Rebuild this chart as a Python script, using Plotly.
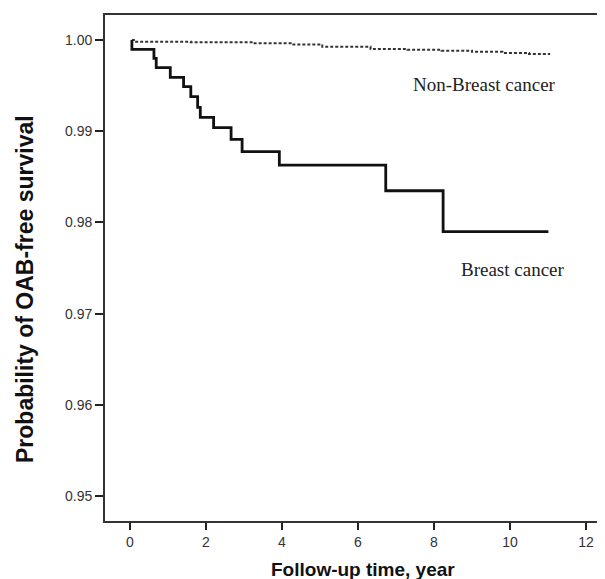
import plotly.graph_objects as go

# Kaplan-Meier step data
breast_time = [0.05, 0.05, 0.63, 0.69, 1.06, 1.41, 1.60, 1.78, 1.85, 2.20, 2.66, 2.95, 3.93, 6.73, 8.24, 11.01]
breast_surv = [1.0000, 0.99898, 0.99799, 0.99697, 0.99591, 0.99488, 0.99379, 0.99262, 0.99152, 0.99039, 0.98911, 0.98775, 0.98629, 0.98347, 0.97898, 0.97898]

nonbreast_time = [0.05, 0.10, 1.6, 3.25, 4.3, 5.06, 6.33, 7.3, 8.2, 9.0, 9.8, 10.5, 11.03]
nonbreast_surv = [1.0000, 0.99981, 0.99975, 0.99964, 0.99950, 0.99927, 0.99901, 0.99893, 0.99883, 0.99870, 0.99858, 0.99846, 0.99836]

x_ticks = [0, 2, 4, 6, 8, 10, 12]
y_ticks = [0.95, 0.96, 0.97, 0.98, 0.99, 1.00]
y_tick_labels = ["0.95", "0.96", "0.97", "0.98", "0.99", "1.00"]

labels = ["Non-Breast cancer", "Breast cancer"]
label_x = [9.34, 10.07]
label_y = [0.99507, 0.97486]

fig = go.Figure()
fig.add_trace(go.Scatter(
    x=nonbreast_time, y=nonbreast_surv, mode="lines", line_shape="hv",
    line=dict(color="#333333", width=2, dash="3px,2px"), showlegend=False))
fig.add_trace(go.Scatter(
    x=breast_time, y=breast_surv, mode="lines", line_shape="hv",
    line=dict(color="#111111", width=2.8), showlegend=False))

for t, xx, yy in zip(labels, label_x, label_y):
    fig.add_annotation(x=xx, y=yy, text=t, showarrow=False,
                       font=dict(family="Liberation Serif", size=19, color="#222222"))

fig.add_annotation(xref="paper", yref="paper", x=0, y=0.4585, xshift=-80,
                   text="Probability of OAB-free survival", textangle=-90, showarrow=False,
                   font=dict(family="Liberation Sans", size=23, color="#111111", weight="bold"),
                   xanchor="center", yanchor="middle")
fig.add_annotation(xref="paper", yref="paper", x=0.516, y=-0.0968,
                   text="Follow-up time, year", showarrow=False,
                   font=dict(family="Liberation Sans", size=19, color="#111111", weight="bold"),
                   xanchor="center", yanchor="middle")

# the page body adds an 8px offset, so the figure is 8px smaller on each side
fig.update_layout(
    width=597, height=571,
    margin=dict(l=97, r=0, t=7, b=58),
    plot_bgcolor="white", paper_bgcolor="white",
    font=dict(family="Liberation Sans"),
)
fig.update_xaxes(range=[-0.658, 12.5], tickvals=x_ticks, ticks="outside", ticklen=7,
                 tickwidth=2, tickcolor="#222222", showline=True, linecolor="#333333",
                 linewidth=1.8, mirror=True, showgrid=False, zeroline=False,
                 tickfont=dict(size=14, color="#333333"))
fig.update_yaxes(range=[0.94726, 1.00274], tickvals=y_ticks, ticktext=y_tick_labels,
                 ticks="outside", ticklen=8, tickwidth=2, tickcolor="#222222",
                 showline=True, linecolor="#333333", linewidth=1.8, showgrid=False,
                 zeroline=False, tickfont=dict(size=14, color="#333333"))

fig.write_html("out.html")
